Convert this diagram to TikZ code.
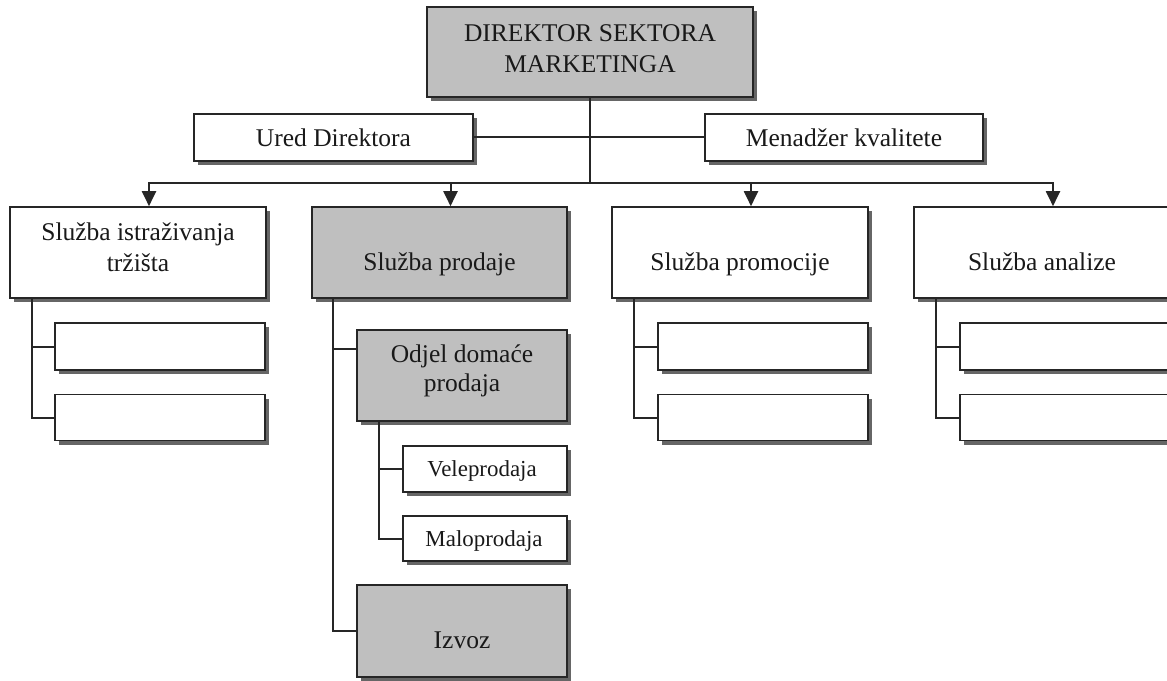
\documentclass[tikz,border=0pt]{standalone}
\usepackage{fontspec}
\setmainfont{Liberation Serif}
\usetikzlibrary{arrows.meta,shadows}
\begin{document}
\begin{tikzpicture}[x=1bp,y=-1bp,
  box/.style={draw=black!85, line width=1.6bp, fill=white, inner sep=0pt,
    drop shadow={shadow xshift=4bp, shadow yshift=-4bp, fill=black!60, opacity=1}},
  gbox/.style={box, fill=black!25},
  line/.style={draw=black!85, line width=2bp},
  arr/.style={line, -{Triangle[width=14bp,length=15bp]}},
  txt/.style={anchor=base, inner sep=0pt, text=black!90, font=\fontsize{25.6}{31}\selectfont, align=center},
  stxt/.style={txt, font=\fontsize{23}{28}\selectfont}]
\useasboundingbox (0,0) rectangle (1167,681);
\clip (0,0) rectangle (1167,681);
% top
\node[gbox, minimum width=326bp, minimum height=90bp] (dir) at (590,52) {};
\node[txt] (tdir1) at (590,42) {DIREKTOR SEKTORA};
\node[txt] (tdir2) at (590,73) {MARKETINGA};
\node[box, minimum width=279bp, minimum height=47bp] (ured) at (333.5,137.5) {};
\node[txt] (tured) at (333.5,147) {Ured Direktora};
\node[box, minimum width=278bp, minimum height=47bp] (men) at (844,137.5) {};
\node[txt] (tmen) at (844,147) {Menadžer kvalitete};
\coordinate (bus) at (590,183);
% second level
\node[box, minimum width=256bp, minimum height=91bp] (s1) at (138,252.5) {};
\node[txt] (ts1a) at (138,240) {Služba istraživanja};
\node[txt] (ts1b) at (138,271) {tržišta};
\node[gbox, minimum width=255bp, minimum height=91bp] (s2) at (439.5,252.5) {};
\node[txt] (ts2) at (439.5,270) {Služba prodaje};
\node[box, minimum width=256bp, minimum height=91bp] (s3) at (740,252.5) {};
\node[txt] (ts3) at (740,270) {Služba promocije};
\node[box, minimum width=256bp, minimum height=91bp] (s4) at (1042,252.5) {};
\node[txt] (ts4) at (1042,270) {Služba analize};
% sub boxes
\node[box, minimum width=210bp, minimum height=47bp] (s1a) at (160,346.5) {};
\node[box, minimum width=210bp, minimum height=46bp] (s1b) at (160,417.5) {};
\node[box, minimum width=210bp, minimum height=47bp] (s3a) at (763,346.5) {};
\node[box, minimum width=210bp, minimum height=46bp] (s3b) at (763,417.5) {};
\node[box, minimum width=210bp, minimum height=47bp] (s4a) at (1065,346.5) {};
\node[box, minimum width=210bp, minimum height=46bp] (s4b) at (1065,417.5) {};
\node[gbox, minimum width=210bp, minimum height=91bp] (odj) at (462,375.5) {};
\node[txt] (todj1) at (462,362) {Odjel domaće};
\node[txt] (todj2) at (462,391) {prodaja};
\node[box, minimum width=164bp, minimum height=46bp] (vel) at (485,469) {};
\node[stxt] (tvel) at (482,476) {Veleprodaja};
\node[box, minimum width=164bp, minimum height=45bp] (mal) at (485,538.5) {};
\node[stxt] (tmal) at (484,546) {Maloprodaja};
\node[gbox, minimum width=210bp, minimum height=92bp] (izv) at (462,631) {};
\node[txt] (tizv) at (462,648) {Izvoz};
% connectors
\draw[line] (dir.south) -- (bus);
\draw[line] (ured.east) -- (men.west);
\draw[arr] (bus) -| ([xshift=11bp]s1.north);
\draw[arr] (bus) -| ([xshift=11bp]s2.north);
\draw[arr] (bus) -| ([xshift=11bp]s3.north);
\draw[arr] (bus) -| ([xshift=11bp]s4.north);
\draw[line] ([xshift=23bp]s1.south west) |- (s1a.west);
\draw[line] ([xshift=23bp]s1.south west) |- (s1b.west);
\draw[line] ([xshift=23bp]s3.south west) |- (s3a.west);
\draw[line] ([xshift=23bp]s3.south west) |- (s3b.west);
\draw[line] ([xshift=23bp]s4.south west) |- (s4a.west);
\draw[line] ([xshift=23bp]s4.south west) |- (s4b.west);
\draw[line] ([xshift=22bp]s2.south west) |- ([yshift=27bp]odj.west);
\draw[line] ([xshift=22bp]s2.south west) |- (izv.west);
\draw[line] ([xshift=23bp]odj.south west) |- (vel.west);
\draw[line] ([xshift=23bp]odj.south west) |- (mal.west);
\end{tikzpicture}
\end{document}
